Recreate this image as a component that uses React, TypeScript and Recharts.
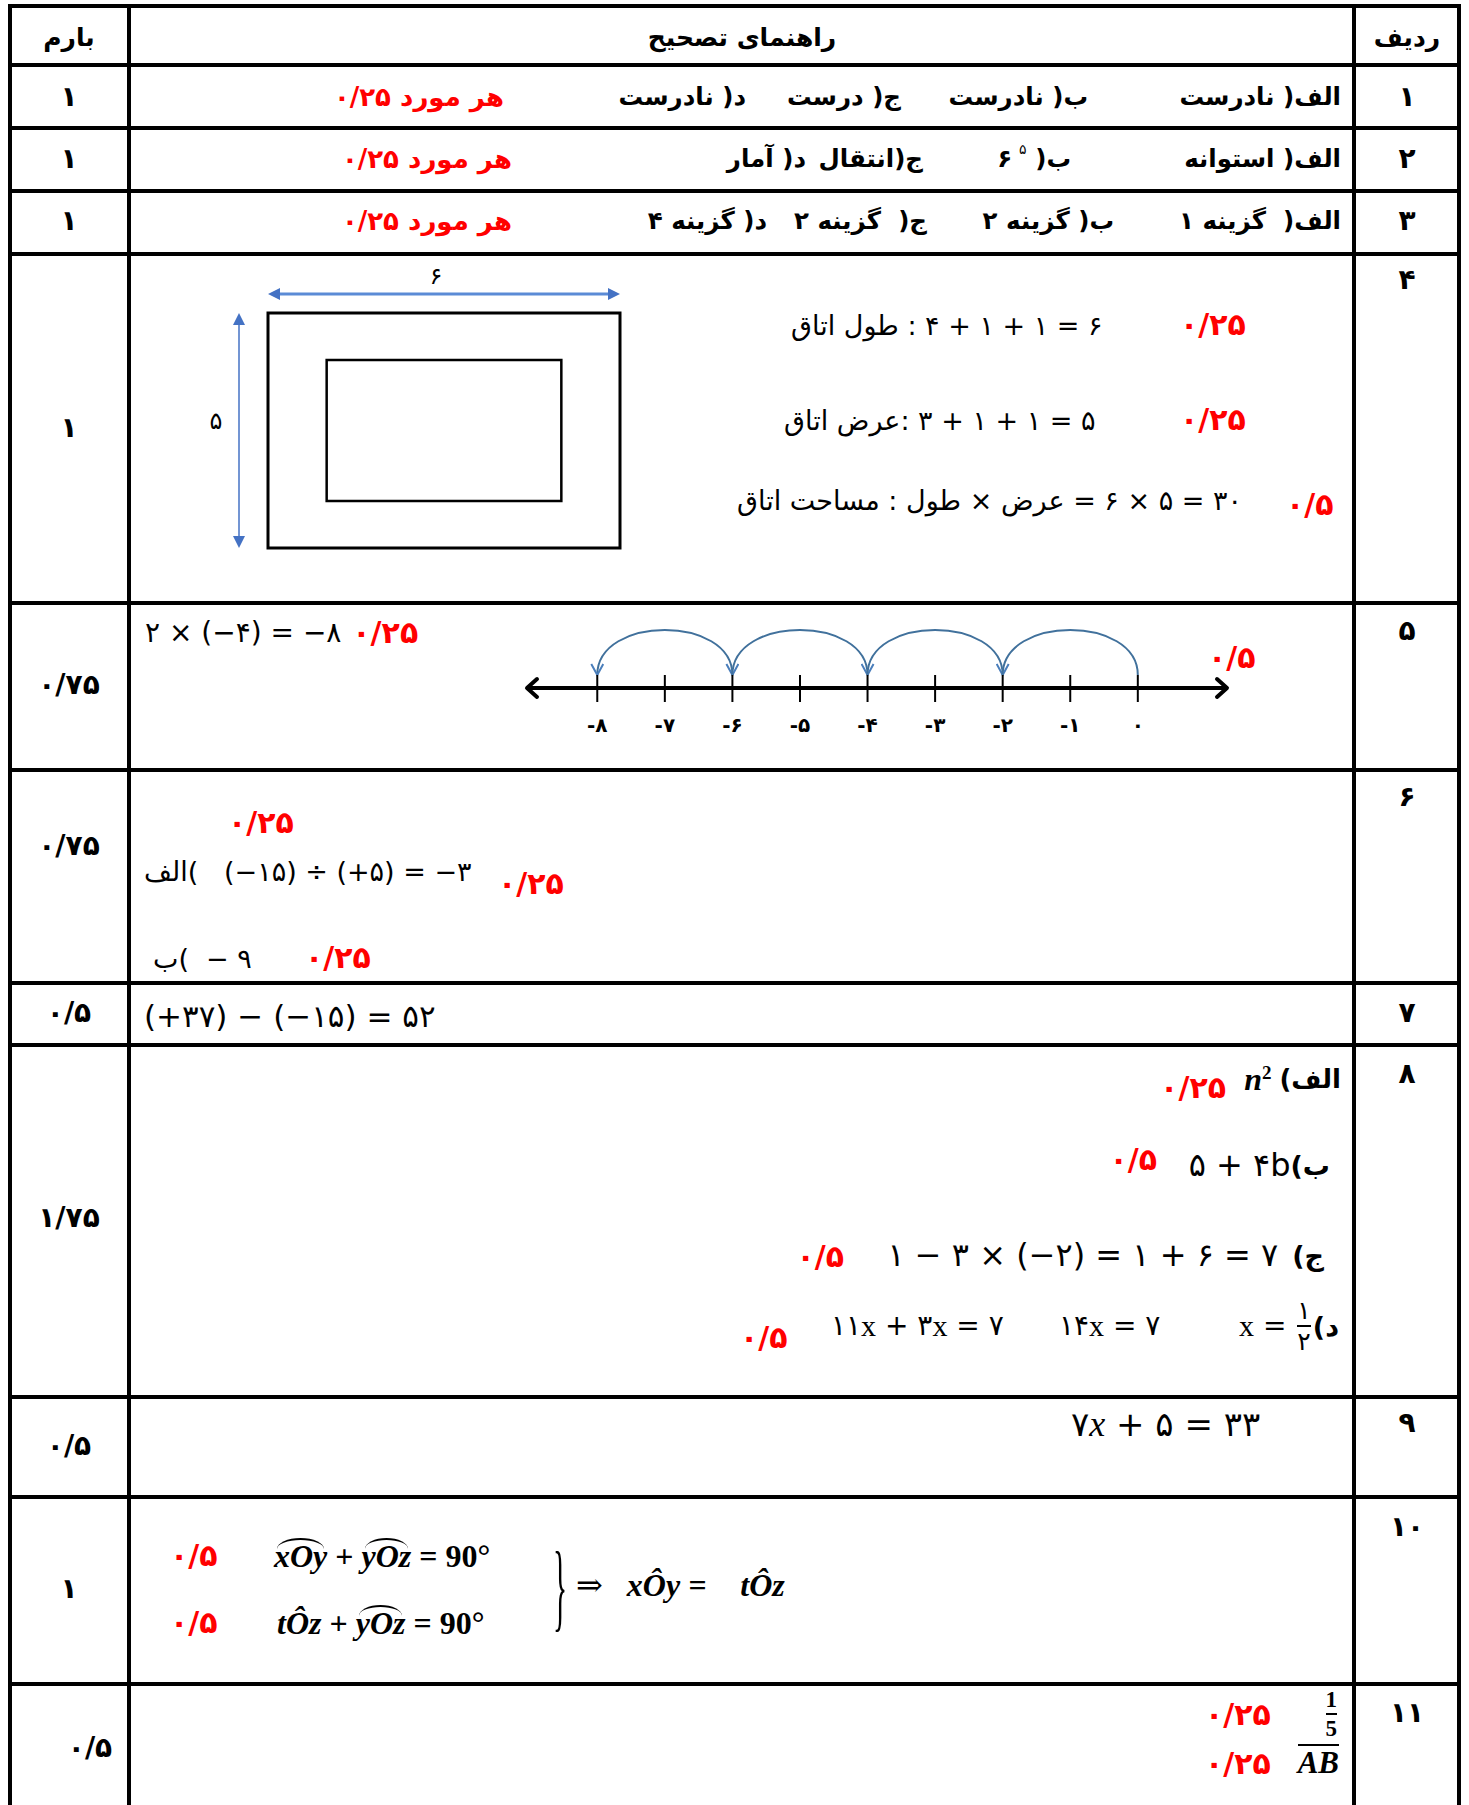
import React from "react";
import { ComposedChart, Line, XAxis, YAxis, ReferenceLine } from "recharts";

const W = 1469;
const H = 1805;

// ---- data ----
const headers = ["بارم", "راهنمای تصحیح", "ردیف"];
const rowNumbers = [1, 2, 3, 4, 5, 6, 7, 8, 9, 10, 11];
const rowScores = [1, 1, 1, 1, 0.75, 0.75, 0.5, 1.75, 0.5, 1, 0.5];
const q1Answers = ["الف) نادرست", "ب) نادرست", "ج) درست", "د) نادرست"];
const q2Answers = ["الف) استوانه", "ب) ", "ج)انتقال", "د) آمار"];
const q3Answers = ["الف)  گزینه ۱", "ب) گزینه ۲", "ج)  گزینه ۲", "د) گزینه ۴"];
const perItem = "هر مورد ۰/۲۵";
const powerBase = [6, 5];

const outerSize = [6, 5];
const innerSize = [4, 3];
const wallGap = [1, 1];

const numberLineTicks = [-8, -7, -6, -5, -4, -3, -2, -1, 0];
const numberLineRange = [-9.04, 1.32];
const jumps = [
  [0, -2],
  [-2, -4],
  [-4, -6],
  [-6, -8],
];

// ---- layout ----
const hLines = [6, 65, 128, 191, 254, 603, 770, 983, 1045, 1397, 1497, 1684];
const vLines = [10, 129, 1354, 1459];
const numY = [97, 159, 221, 280, 631, 797, 1013, 1074, 1423, 1527, 1713];
const scoreY = [97, 159, 221, 428, 685, 846, 1013, 1218, 1446, 1589, 1748];
const q1Right = [1341, 1088, 901, 746];
const q2Right = [1341, 1071, 923, 806];
const q3Right = [1341, 1114, 927, 767];

const FA = '"DejaVu Sans", sans-serif';
const MATH = '"Liberation Serif", "DejaVu Serif", serif';
const RED = "#ff0000";
const LRM = "\u200E";

const fa = (v: number | string) => String(v).replace(/\d/g, (d) => "۰۱۲۳۴۵۶۷۸۹"[Number(d)]);
const score = (v: number) => fa(String(v).replace(".", "/"));
const keepParen = (s: string) => s.replace(/\)/g, LRM + ")" + LRM);
const isoFa = (s: string) =>
  s.replace(/([\u0600-\u06EF\u06FA-\u06FF]+(?:[ ]+[\u0600-\u06EF\u06FA-\u06FF]+)*)/g, "$1" + LRM);

const rectPoints = (x0: number, y0: number, w: number, h: number) => [
  { x: x0, y: y0 },
  { x: x0 + w, y: y0 },
  { x: x0 + w, y: y0 + h },
  { x: x0, y: y0 + h },
  { x: x0, y: y0 },
];

const bold: React.CSSProperties = { fontFamily: FA, fontWeight: 700, fontSize: 24.5 };
const big: React.CSSProperties = { fontFamily: FA, fontWeight: 700, fontSize: 28 };
const reg: React.CSSProperties = { fontFamily: FA, fontWeight: 400, fontSize: 27 };
const red: React.CSSProperties = { fontFamily: FA, fontWeight: 700, fontSize: 30, color: RED };
const redItem: React.CSSProperties = { fontFamily: FA, fontWeight: 700, fontSize: 26, color: RED };
const math: React.CSSProperties = { fontFamily: MATH, fontWeight: 700, fontStyle: "italic", fontSize: 32 };

type TP = {
  x: number;
  y: number;
  a?: "l" | "r" | "c";
  s?: React.CSSProperties;
  rtl?: boolean;
  children: React.ReactNode;
};

const T = ({ x, y, a = "l", s, rtl, children }: TP) => {
  const pos: React.CSSProperties = a === "r" ? { right: W - x } : { left: x };
  return (
    <div
      style={{
        position: "absolute",
        top: y,
        whiteSpace: "pre",
        lineHeight: 1,
        display: "flex",
        alignItems: "center",
        transform: a === "c" ? "translate(-50%,-50%)" : "translateY(-50%)",
        direction: rtl ? "rtl" : "ltr",
        color: "#000",
        ...pos,
        ...s,
      }}
    >
      {children}
    </div>
  );
};

// arch from one tick to the next, lifted to the tick top
const archCurve = (lift: number, rise: number) => (context: any) => {
  let pts: number[][] = [];
  return {
    areaStart() {},
    areaEnd() {},
    lineStart() {
      pts = [];
    },
    lineEnd() {
      if (pts.length < 2) return;
      const [x0, y0] = pts[0];
      const [x1, y1] = pts[pts.length - 1];
      context.moveTo(x0, y0 - lift);
      context.bezierCurveTo(x0, y0 - lift - rise, x1, y1 - lift - rise, x1, y1 - lift);
    },
    point(x: number, y: number) {
      pts.push([x, y]);
    },
  };
};

const NumTick = (p: any) => {
  const { x, y, payload } = p;
  const v = payload.value;
  return (
    <g>
      <line x1={x} x2={x} y1={y - 13} y2={y + 14} stroke="#000" strokeWidth={2} />
      <text
        x={x}
        y={y + 37}
        textAnchor="middle"
        dominantBaseline="central"
        fontFamily={FA}
        fontWeight={700}
        fontSize={20}
        fill="#000"
      >
        {v < 0 ? "-" + fa(-v) : fa(v)}
      </text>
    </g>
  );
};

const DimH = (p: any) => {
  const off = 19;
  return (
    <g>
      <line
        x1={p.x1 + 10}
        y1={p.y1 - off}
        x2={p.x2 - 10}
        y2={p.y2 - off}
        stroke="#5b8bd6"
        strokeWidth={3}
        markerStart="url(#dimTri)"
        markerEnd="url(#dimTri)"
      />
      <text
        x={(p.x1 + p.x2) / 2 - 8}
        y={p.y1 - off - 10}
        textAnchor="middle"
        fontFamily={FA}
        fontSize={24}
        fill="#000"
      >
        {fa(outerSize[0])}
      </text>
    </g>
  );
};

const DimV = (p: any) => {
  const off = 29;
  return (
    <g>
      <line
        x1={p.x1 - off}
        y1={p.y1 + 10}
        x2={p.x2 - off}
        y2={p.y2 - 10}
        stroke="#4472c4"
        strokeWidth={1.5}
        markerStart="url(#dimTri)"
        markerEnd="url(#dimTri)"
      />
      <text
        x={p.x1 - off - 23}
        y={(p.y1 + p.y2) / 2 - 10}
        textAnchor="middle"
        dominantBaseline="central"
        fontFamily={FA}
        fontSize={24}
        fill="#000"
      >
        {fa(outerSize[1])}
      </text>
    </g>
  );
};

const RoomFigure = () => (
  <div style={{ position: "absolute", left: 180, top: 240 }}>
    <ComposedChart width={480} height={330} margin={{ top: 73, right: 40, bottom: 22, left: 88 }}>
      <XAxis type="number" dataKey="x" domain={[0, outerSize[0]]} hide />
      <YAxis type="number" domain={[0, outerSize[1]]} hide />
      <Line
        data={rectPoints(0, 0, outerSize[0], outerSize[1])}
        dataKey="y"
        type="linear"
        stroke="#000"
        strokeWidth={3}
        strokeLinecap="square"
        dot={false}
        activeDot={false}
        isAnimationActive={false}
      />
      <Line
        data={rectPoints(wallGap[0], wallGap[1], innerSize[0], innerSize[1])}
        dataKey="y"
        type="linear"
        stroke="#000"
        strokeWidth={2.5}
        strokeLinecap="square"
        dot={false}
        activeDot={false}
        isAnimationActive={false}
      />
      <ReferenceLine
        segment={[
          { x: 0, y: outerSize[1] },
          { x: outerSize[0], y: outerSize[1] },
        ]}
        shape={DimH}
        ifOverflow="visible"
      />
      <ReferenceLine
        segment={[
          { x: 0, y: outerSize[1] },
          { x: 0, y: 0 },
        ]}
        shape={DimV}
        ifOverflow="visible"
      />
    </ComposedChart>
  </div>
);

const NumberLine = () => (
  <div style={{ position: "absolute", left: 480, top: 600 }}>
    <ComposedChart width={800} height={153} margin={{ top: 5, right: 53, bottom: 5, left: 47 }}>
      <XAxis
        type="number"
        dataKey="x"
        domain={numberLineRange}
        ticks={numberLineTicks}
        interval={0}
        allowDataOverflow
        height={60}
        tickSize={0}
        tickMargin={0}
        tickLine={false}
        tick={NumTick}
        axisLine={{
          stroke: "#000",
          strokeWidth: 4,
          markerStart: "url(#chev)",
          markerEnd: "url(#chev)",
        }}
      />
      <YAxis type="number" domain={[0, 1]} hide />
      {jumps.map(([a, b], i) => (
        <Line
          key={i}
          data={[
            { x: a, y: 0 },
            { x: b, y: 0 },
          ]}
          dataKey="y"
          type={archCurve(13, 60) as any}
          stroke="#41719c"
          strokeWidth={2}
          dot={false}
          activeDot={false}
          markerEnd="url(#arcHead)"
          isAnimationActive={false}
        />
      ))}
    </ComposedChart>
  </div>
);

const Angle = ({ children }: { children: React.ReactNode }) => (
  <span style={{ position: "relative", display: "inline-block" }}>
    {children}
    <span
      style={{
        position: "absolute",
        left: "6%",
        right: "6%",
        top: -2,
        height: 9,
        borderTop: "2px solid #000",
        borderRadius: "50% 50% 0 0 / 100% 100% 0 0",
      }}
    />
  </span>
);

const Frac = ({ n, d, s }: { n: string; d: string; s?: React.CSSProperties }) => (
  <span
    style={{
      display: "inline-flex",
      flexDirection: "column",
      alignItems: "center",
      lineHeight: 1,
      margin: "0 2px",
      ...s,
    }}
  >
    <span>{n}</span>
    <span style={{ alignSelf: "stretch", borderTop: "2px solid #000", margin: "2px 0" }} />
    <span>{d}</span>
  </span>
);

const X = ({ size = 28 }: { size?: number }) => (
  <span style={{ fontFamily: MATH, fontSize: size }}>x</span>
);

export default function App() {
  return (
    <div
      style={{
        position: "absolute",
        left: 0,
        top: 0,
        width: W,
        height: H,
        overflow: "hidden",
        background: "#fff",
      }}
    >
      <svg width={0} height={0} style={{ position: "absolute" }}>
        <defs>
          <marker
            id="chev"
            viewBox="0 0 16 24"
            refX={13}
            refY={12}
            markerWidth={16}
            markerHeight={24}
            orient="auto-start-reverse"
            markerUnits="userSpaceOnUse"
          >
            <path d="M3,3 L13,12 L3,21" fill="none" stroke="#000" strokeWidth={4} strokeLinecap="round" strokeLinejoin="round" />
          </marker>
          <marker
            id="arcHead"
            viewBox="0 0 14 14"
            refX={12}
            refY={7}
            markerWidth={14}
            markerHeight={14}
            orient="auto"
            markerUnits="userSpaceOnUse"
          >
            <path d="M1,1 L12,7 L1,13" fill="none" stroke="#4a7ebb" strokeWidth={2} />
          </marker>
          <marker
            id="dimTri"
            viewBox="0 0 12 12"
            refX={2}
            refY={6}
            markerWidth={12}
            markerHeight={12}
            orient="auto-start-reverse"
            markerUnits="userSpaceOnUse"
          >
            <path d="M0,0 L12,6 L0,12 Z" fill="#4472c4" />
          </marker>
        </defs>
      </svg>

      {/* grid */}
      {hLines.map((y) => (
        <div key={"h" + y} style={{ position: "absolute", left: 8, width: 1453, top: y - 2, height: 4, background: "#000" }} />
      ))}
      {vLines.map((x) => (
        <div key={"v" + x} style={{ position: "absolute", left: x - 2, width: 4, top: 4, height: H - 4, background: "#000" }} />
      ))}

      {/* header */}
      <T x={69} y={37} a="c" s={{ ...bold, fontSize: 25 }} rtl>{headers[0]}</T>
      <T x={742} y={37} a="c" s={{ ...bold, fontSize: 25 }} rtl>{headers[1]}</T>
      <T x={1407} y={37} a="c" s={{ ...bold, fontSize: 25 }} rtl>{headers[2]}</T>

      {/* row numbers and scores */}
      {rowNumbers.map((n, i) => (
        <T key={"n" + n} x={1407} y={numY[i]} a="c" s={big}>{fa(n)}</T>
      ))}
      {rowScores.map((v, i) => (
        <T key={"s" + i} x={i === 10 ? 90 : 69} y={scoreY[i]} a="c" s={big}>{score(v)}</T>
      ))}

      {/* 1 - 3 */}
      {q1Answers.map((s, i) => (
        <T key={"a" + i} x={q1Right[i]} y={97} a="r" s={bold} rtl>{keepParen(s)}</T>
      ))}
      <T x={504} y={97} a="r" s={redItem} rtl>{perItem}</T>
      {q2Answers.map((s, i) => (
        <T key={"b" + i} x={q2Right[i]} y={159} a="r" s={bold} rtl>
          {keepParen(s)}
          {i === 1 ? (
            <span>
              {fa(powerBase[0])}
              <sup style={{ fontSize: 14, fontWeight: 400, marginLeft: 7, position: "relative", top: -4 }}>{fa(powerBase[1])}</sup>
            </span>
          ) : null}
        </T>
      ))}
      <T x={512} y={159} a="r" s={redItem} rtl>{perItem}</T>
      {q3Answers.map((s, i) => (
        <T key={"c" + i} x={q3Right[i]} y={221} a="r" s={bold} rtl>{keepParen(s)}</T>
      ))}
      <T x={512} y={221} a="r" s={redItem} rtl>{perItem}</T>

      {/* 4 */}
      <RoomFigure />
      <T x={791} y={325} s={reg}>{isoFa("طول اتاق : ۴ + ۱ + ۱ = ۶")}</T>
      <T x={1180} y={325} s={red}>۰/۲۵</T>
      <T x={784} y={420} s={reg}>{isoFa("عرض اتاق: ۳ + ۱ + ۱ = ۵")}</T>
      <T x={1180} y={420} s={red}>۰/۲۵</T>
      <T x={737} y={500} s={reg}>{isoFa("مساحت اتاق : طول × عرض = ۶ × ۵ = ۳۰")}</T>
      <T x={1286} y={505} s={red}>۰/۵</T>

      {/* 5 */}
      <T x={145} y={633} s={{ ...reg, fontSize: 28 }}>
        ۲ × (−۴) = −۸ <span style={{ ...red, marginLeft: 2 }}>۰/۲۵</span>
      </T>
      <NumberLine />
      <T x={1208} y={658} s={red}>۰/۵</T>

      {/* 6 */}
      <T x={228} y={823} s={red}>۰/۲۵</T>
      <T x={144} y={871} s={reg}>{"الف" + LRM + "(" + "   (−۱۵) ÷ (+۵) = −۳"}</T>
      <T x={498} y={884} s={red}>۰/۲۵</T>
      <T x={153} y={958} s={reg}>{"ب" + LRM + "(" + "  − ۹"}</T>
      <T x={305} y={958} s={red}>۰/۲۵</T>

      {/* 7 */}
      <T x={144} y={1016} s={{ ...reg, fontSize: 31 }}>(+۳۷) − (−۱۵) = ۵۲</T>

      {/* 8 */}
      <T x={1341} y={1079} a="r" s={{ ...bold, fontSize: 26 }}>
        <span style={{ ...math, fontSize: 32 }}>
          n<sup style={{ fontSize: 19, fontStyle: "normal" }}>2</sup>
        </span>
        <span style={{ direction: "rtl", marginLeft: 8 }}>الف)</span>
      </T>
      <T x={1226} y={1088} a="r" s={red}>۰/۲۵</T>
      <T x={1330} y={1165} a="r" s={{ ...reg, fontSize: 32 }}>
        <span>۵ + ۴b</span>
        <span style={{ ...bold, fontSize: 27, direction: "rtl" }}>ب)</span>
      </T>
      <T x={1157} y={1160} a="r" s={red}>۰/۵</T>
      <T x={1324} y={1255} a="r" s={{ ...reg, fontSize: 32 }}>
        <span>۱ − ۳ × (−۲) = ۱ + ۶ = ۷</span>
        <span style={{ ...bold, fontSize: 27, direction: "rtl", marginLeft: 14 }}>ج)</span>
      </T>
      <T x={844} y={1257} a="r" s={red}>۰/۵</T>
      <T x={1339} y={1326} a="r" s={{ ...reg, fontSize: 28 }}>
        <X size={30} />
        <span> = </span>
        <Frac n="۱" d="۲" s={{ fontSize: 25 }} />
        <span style={{ ...bold, fontSize: 27, direction: "rtl" }}>د)</span>
      </T>
      <T x={1059} y={1326} s={{ ...reg, fontSize: 28 }}>
        ۱۴<X size={30} /> = ۷
      </T>
      <T x={831} y={1326} s={{ ...reg, fontSize: 28 }}>
        ۱۱<X size={30} /> + ۳<X size={30} /> = ۷
      </T>
      <T x={740} y={1338} s={red}>۰/۵</T>

      {/* 9 */}
      <T x={1071} y={1424} s={{ ...reg, fontSize: 34 }}>
        ۷<span style={{ fontFamily: MATH, fontStyle: "italic", fontSize: 36 }}>x</span> + ۵ = ۳۳
      </T>

      {/* 10 */}
      <T x={170} y={1556} s={red}>۰/۵</T>
      <T x={274} y={1556} s={math}>
        <Angle>xOy</Angle>
        <span style={{ fontStyle: "normal" }}> + </span>
        <Angle>yOz</Angle>
        <span style={{ fontStyle: "normal" }}> = 90°</span>
      </T>
      <T x={170} y={1623} s={red}>۰/۵</T>
      <T x={277} y={1623} s={math}>
        <span>tÔz</span>
        <span style={{ fontStyle: "normal" }}> + </span>
        <Angle>yOz</Angle>
        <span style={{ fontStyle: "normal" }}> = 90°</span>
      </T>
      <T x={553} y={1586} s={{ fontFamily: MATH, fontSize: 98, transform: "translateY(-50%) scaleX(0.3)", transformOrigin: "left center" }}>
        {"}"}
      </T>
      <T x={576} y={1585} s={math}>
        <span style={{ fontStyle: "normal", fontWeight: 400 }}>⇒</span>
        <span style={{ marginLeft: 24 }}>xÔy = </span>
        <span style={{ marginLeft: 26 }}>tÔz</span>
      </T>

      {/* 11 */}
      <T x={1339} y={1714} a="r" s={{ fontFamily: MATH, fontWeight: 700, fontSize: 23 }}>
        <Frac n="1" d="5" />
      </T>
      <T x={1205} y={1715} s={red}>۰/۲۵</T>
      <T x={1339} y={1761} a="r" s={{ ...math, fontSize: 31 }}>
        <span style={{ borderTop: "2px solid #000", paddingTop: 1 }}>AB</span>
      </T>
      <T x={1205} y={1764} s={red}>۰/۲۵</T>
    </div>
  );
}
